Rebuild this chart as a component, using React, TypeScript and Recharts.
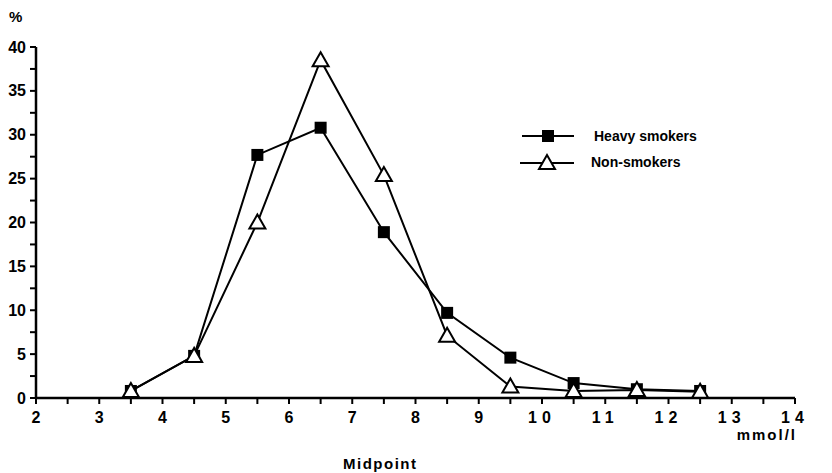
import { LineChart, Line, XAxis, YAxis } from 'recharts';

// class midpoints (mmol/l) and % of subjects in each class
const midpoints = [3.5, 4.5, 5.5, 6.5, 7.5, 8.5, 9.5, 10.5, 11.5, 12.5];
const heavySmokers = [0.8, 4.8, 27.7, 30.8, 18.9, 9.7, 4.6, 1.7, 1.0, 0.8];
const nonSmokers = [0.8, 4.8, 20.0, 38.5, 25.4, 7.1, 1.3, 0.8, 0.9, 0.7];

const xTicks = [2, 2.5, 3, 3.5, 4, 4.5, 5, 5.5, 6, 6.5, 7, 7.5, 8, 8.5, 9, 9.5, 10, 10.5, 11, 11.5, 12, 12.5, 13, 13.5, 14];
const yTicks = [0, 2.5, 5, 7.5, 10, 12.5, 15, 17.5, 20, 22.5, 25, 27.5, 30, 32.5, 35, 37.5, 40];

const data = midpoints.map((x, i) => ({
  x,
  heavy: heavySmokers[i],
  non: nonSmokers[i],
}));

const FONT = '"Liberation Sans", Arial, Helvetica, sans-serif';

function SquareDot(props: any) {
  const { cx, cy, index } = props;
  return <rect key={`sq-${index}`} x={cx - 6} y={cy - 6} width={12} height={12} fill="#000" />;
}

function TriangleDot(props: any) {
  const { cx, cy, index } = props;
  return (
    <polygon
      key={`tr-${index}`}
      points={`${cx},${cy - 8} ${cx - 8},${cy + 6} ${cx + 8},${cy + 6}`}
      fill="#fff"
      stroke="#000"
      strokeWidth={2}
    />
  );
}

function XTick(props: any) {
  const { x, y, payload } = props;
  if (!Number.isInteger(payload.value)) return <g />;
  return (
    <text
      x={x}
      y={y + 17}
      textAnchor="middle"
      fontFamily={FONT}
      fontWeight="bold"
      fontSize={16}
      letterSpacing={payload.value >= 10 ? 5 : 0}
      fill="#000"
    >
      {payload.value}
    </text>
  );
}

function YTick(props: any) {
  const { y, payload } = props;
  if (payload.value % 5 !== 0) return <g />;
  return (
    <text
      x={26}
      y={y + 5.5}
      textAnchor="end"
      fontFamily={FONT}
      fontWeight="bold"
      fontSize={16}
      fill="#000"
    >
      {payload.value}
    </text>
  );
}

function LegendBox() {
  const rowStyle = { display: 'flex', alignItems: 'center', height: 26 };
  const textStyle = { fontFamily: FONT, fontWeight: 700, fontSize: 14, marginLeft: 18 };
  return (
    <div style={{ position: 'absolute', left: 520, top: 123 }}>
      <div style={rowStyle}>
        <svg width={56} height={20}>
          <line x1={2} y1={10} x2={54} y2={10} stroke="#000" strokeWidth={2} />
          <rect x={22} y={4} width={12} height={12} fill="#000" />
        </svg>
        <span style={textStyle}>Heavy smokers</span>
      </div>
      <div style={rowStyle}>
        <svg width={56} height={20}>
          <line x1={0} y1={11} x2={54} y2={11} stroke="#000" strokeWidth={2} />
          <polygon points="27,3 19,17 35,17" fill="#fff" stroke="#000" strokeWidth={2} />
        </svg>
        <span style={{ ...textStyle, marginLeft: 15 }}>Non-smokers</span>
      </div>
    </div>
  );
}

export default function App() {
  return (
    <div style={{ position: 'absolute', left: 0, top: 0, width: 832, height: 473, background: '#fff' }}>
      <LineChart
        width={832}
        height={473}
        data={data}
        margin={{ top: 47, right: 37, bottom: 45, left: 0 }}
      >
        <XAxis
          type="number"
          dataKey="x"
          domain={[2, 14]}
          ticks={xTicks}
          interval={0}
          height={30}
          tick={XTick}
          tickSize={6}
          axisLine={{ stroke: '#000', strokeWidth: 2.5 }}
          tickLine={{ stroke: '#000', strokeWidth: 2 }}
        />
        <YAxis
          type="number"
          domain={[0, 40]}
          ticks={yTicks}
          interval={0}
          width={36}
          tick={YTick}
          tickSize={6}
          axisLine={{ stroke: '#000', strokeWidth: 2.5 }}
          tickLine={{ stroke: '#000', strokeWidth: 2 }}
        />
        <Line
          dataKey="heavy"
          name="Heavy smokers"
          stroke="#000"
          strokeWidth={2}
          dot={SquareDot}
          isAnimationActive={false}
        />
        <Line
          dataKey="non"
          name="Non-smokers"
          stroke="#000"
          strokeWidth={2}
          dot={TriangleDot}
          isAnimationActive={false}
        />
      </LineChart>
      <LegendBox />
      <div style={{ position: 'absolute', left: 9, top: 8, fontFamily: FONT, fontWeight: 700, fontSize: 15 }}>%</div>
      <div style={{ position: 'absolute', right: 35, top: 426, fontFamily: FONT, fontWeight: 700, fontSize: 15, letterSpacing: 2 }}>mmol/l</div>
      <div style={{ position: 'absolute', left: 343, top: 455, fontFamily: FONT, fontWeight: 700, fontSize: 15, letterSpacing: 1.5 }}>Midpoint</div>
    </div>
  );
}
